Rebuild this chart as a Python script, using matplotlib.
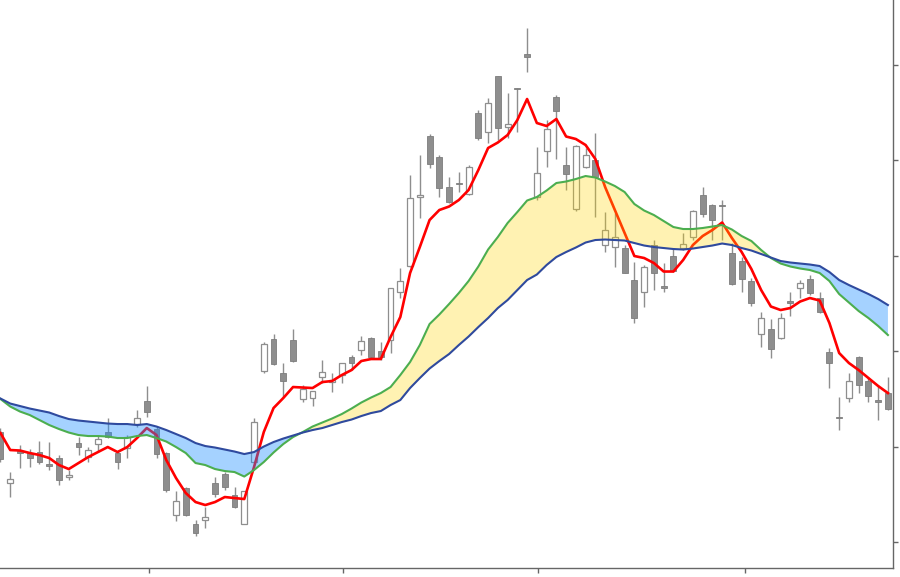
import numpy as np
import matplotlib
matplotlib.use("Agg")
import matplotlib.pyplot as plt

# daily candles (arbitrary price units; the reference shows no tick labels)
opens = [16.8, 11.7, 14.9, 14.7, 14.8, 13.6, 14.2, 12.3, 15.7, 14.3,
         15.6, 16.8, 14.7, 15.2, 17.6, 19.9, 17.1, 14.7, 8.5, 11.2,
         7.6, 8.0, 11.7, 12.6, 10.5, 7.6, 13.8, 22.9, 26.1, 22.7,
         26.0, 20.1, 20.2, 22.3, 21.8, 22.5, 24.3, 25.0, 26.2, 24.9,
         26.0, 30.8, 33.4, 40.3, 46.4, 44.3, 41.3, 41.75, 40.6, 48.7,
         46.8, 52.4, 47.3, 51.2, 54.6, 40.3, 44.9, 50.3, 43.5, 39.1,
         43.3, 44.0, 35.5, 35.3, 35.2, 32.0, 30.8, 35.5, 31.4, 34.4,
         35.2, 36.3, 40.5, 39.5, 39.55, 34.7, 33.9, 31.9, 26.6, 27.1,
         26.2, 29.9, 31.2, 32.1, 30.2, 24.8, 18.35, 20.2, 24.3, 21.9,
         20.0, 20.7]
highs = [17.2, 12.8, 15.5, 15.1, 15.9, 15.8, 14.5, 13.0, 16.3, 15.3,
         16.5, 18.2, 15.0, 16.5, 19.0, 21.4, 17.3, 14.8, 10.9, 11.3,
         8.0, 9.3, 12.3, 12.8, 11.3, 10.9, 18.2, 25.8, 26.6, 23.7,
         27.1, 21.5, 20.9, 24.0, 22.7, 23.7, 24.5, 26.4, 26.3, 25.8,
         31.2, 33.2, 42.5, 44.5, 46.6, 44.5, 42.3, 42.8, 43.5, 49.0,
         50.2, 52.4, 50.7, 51.2, 57.2, 45.3, 48.0, 50.5, 45.3, 45.5,
         45.2, 46.7, 38.8, 38.7, 35.5, 33.8, 33.5, 36.0, 33.7, 35.2,
         36.7, 39.0, 41.3, 39.6, 40.0, 35.7, 34.3, 32.2, 28.8, 28.1,
         28.7, 30.8, 32.0, 32.5, 30.8, 25.2, 20.3, 22.7, 24.4, 22.3,
         21.5, 22.3]
lows = [13.8, 10.3, 13.2, 13.3, 13.6, 13.0, 11.5, 12.0, 14.5, 13.8,
        14.8, 16.2, 13.1, 14.2, 17.3, 18.3, 14.2, 10.8, 7.9, 8.4,
        6.4, 7.2, 10.3, 11.0, 9.2, 7.6, 13.7, 22.7, 23.5, 20.3,
        23.8, 19.8, 19.4, 21.7, 20.8, 21.7, 23.0, 24.5, 24.1, 24.0,
        24.7, 30.2, 33.3, 38.2, 43.2, 40.3, 39.7, 40.8, 40.5, 46.0,
        45.7, 46.0, 46.2, 46.8, 52.8, 40.0, 43.3, 44.1, 41.0, 38.9,
        43.2, 38.3, 34.8, 33.3, 32.7, 27.7, 29.3, 31.0, 30.8, 32.8,
        35.0, 36.0, 38.3, 36.0, 36.0, 31.5, 30.8, 29.4, 25.3, 24.2,
        26.1, 28.4, 30.2, 30.5, 28.7, 21.2, 17.0, 19.8, 20.7, 19.8,
        18.0, 19.0]
closes = [14.1, 12.1, 14.7, 14.2, 13.8, 13.4, 12.0, 12.5, 15.3, 15.0,
          16.1, 16.3, 13.8, 16.3, 18.2, 18.8, 14.6, 11.0, 9.9, 8.5,
          6.7, 8.3, 10.6, 11.3, 9.3, 10.9, 17.8, 25.6, 23.6, 21.9,
          23.9, 21.1, 20.9, 22.8, 22.0, 23.7, 23.7, 25.9, 24.3, 24.3,
          31.2, 31.9, 40.2, 40.5, 43.6, 41.2, 39.8, 41.6, 43.3, 46.2,
          49.7, 47.2, 47.6, 51.1, 54.3, 42.7, 47.1, 48.9, 42.6, 45.4,
          44.5, 42.3, 37.0, 36.3, 32.7, 28.2, 33.3, 32.7, 31.25, 32.9,
          35.6, 38.9, 38.6, 38.0, 39.4, 31.6, 32.1, 29.7, 28.2, 25.1,
          28.2, 29.75, 31.7, 30.7, 28.8, 23.7, 18.2, 21.9, 21.5, 20.4,
          19.85, 19.1]

# moving averages: fast (red), medium (green), slow (blue)
ma_fast = [16.7, 15.0, 14.95, 14.7, 14.5, 14.2, 13.5, 13.1, 13.7, 14.3,
           14.8, 15.3, 14.8, 15.3, 16.2, 17.2, 16.5, 14.0, 12.2, 10.7,
           9.8, 9.5, 9.8, 10.3, 10.2, 10.1, 13.3, 16.8, 19.2, 20.2,
           21.3, 21.25, 21.2, 21.8, 21.9, 22.5, 23.0, 23.9, 24.1, 24.1,
           26.3, 28.3, 32.7, 35.3, 38.0, 39.0, 39.35, 40.0, 41.0, 43.0,
           45.2, 45.75, 46.5, 48.0, 50.1, 47.7, 47.4, 48.1, 46.35, 46.1,
           45.5, 44.1, 41.3, 39.0, 36.7, 34.4, 34.2, 33.7, 32.85, 32.85,
           34.0, 35.5, 36.4, 37.0, 37.75, 36.2, 34.8, 33.1, 31.0, 29.35,
           29.0, 29.2, 29.85, 30.2, 29.95, 27.7, 24.7, 23.7, 23.0, 22.2,
           21.4, 20.7]
ma_mid = [20.1, 19.35, 18.85, 18.5, 18.0, 17.5, 17.1, 16.75, 16.5, 16.4,
          16.4, 16.35, 16.2, 16.2, 16.4, 16.5, 16.2, 15.85, 15.3, 14.7,
          13.7, 13.5, 13.1, 12.9, 12.8, 12.35, 13.0, 13.8, 14.75, 15.6,
          16.3, 16.8, 17.35, 17.75, 18.15, 18.6, 19.15, 19.75, 20.25, 20.7,
          21.3, 22.5, 23.8, 25.5, 27.6, 28.55, 29.6, 30.7, 31.9, 33.35,
          35.05, 36.3, 37.7, 38.8, 39.95, 40.3, 40.95, 41.7, 41.85, 42.1,
          42.4, 42.25, 41.85, 41.4, 40.8, 39.6, 38.95, 38.5, 37.9, 37.3,
          37.1, 37.1, 37.2, 37.35, 37.5, 37.05, 36.4, 35.9, 35.0, 34.2,
          33.65, 33.35, 33.15, 33.0, 32.7, 31.9, 30.6, 29.75, 28.9, 28.2,
          27.4, 26.5]
ma_slow = [20.15, 19.65, 19.4, 19.15, 18.95, 18.75, 18.4, 18.1, 17.95, 17.85,
           17.75, 17.65, 17.6, 17.6, 17.5, 17.6, 17.35, 17.0, 16.6, 16.2,
           15.7, 15.4, 15.25, 15.05, 14.85, 14.6, 14.8, 15.35, 15.8, 16.15,
           16.45, 16.75, 17.0, 17.2, 17.5, 17.8, 18.05, 18.4, 18.7, 18.9,
           19.5, 20.0, 21.2, 22.2, 23.15, 23.9, 24.6, 25.5, 26.35, 27.3,
           28.2, 29.2, 30.0, 31.0, 32.0, 32.55, 33.5, 34.3, 34.8, 35.25,
           35.75, 36.0, 36.05, 36.0, 35.95, 35.7, 35.45, 35.3, 35.2, 35.1,
           35.05, 35.15, 35.3, 35.45, 35.65, 35.5, 35.2, 34.95, 34.6, 34.25,
           33.9, 33.75, 33.65, 33.55, 33.4, 32.8, 32.0, 31.5, 31.05, 30.6,
           30.1, 29.5]

price_ticks = [5.8, 15.35, 24.9, 34.45, 44.0, 53.55]
day_ticks = [15.2, 35.1, 55.1, 76.3]

o, h, l, c = map(np.array, (opens, highs, lows, closes))
mid, slow = np.array(ma_mid), np.array(ma_slow)
x = np.arange(len(o))
up = c >= o

fig = plt.figure(figsize=(9, 5.77), dpi=100)
ax = fig.add_axes([0.0, 0.015, 0.992, 0.985])

GREY = '#8e8e8e'
ax.vlines(x, l, h, color=GREY, lw=1.0, zorder=2)
body = np.maximum(np.abs(c - o), 0.15)
ax.bar(x[up], body[up], bottom=o[up], width=0.6, color='white',
       edgecolor=GREY, lw=0.9, zorder=2)
ax.bar(x[~up], body[~up], bottom=c[~up], width=0.6, color=GREY,
       edgecolor='#7d7d7d', lw=0.6, zorder=2)

ax.plot(x, ma_fast, color='#ff0000', lw=1.9, zorder=3)

# ribbon between the two slower averages, drawn over candles and the fast line
ax.fill_between(x, mid, slow, where=slow >= mid, interpolate=True,
                color='dodgerblue', alpha=0.4, lw=0, zorder=4)
ax.fill_between(x, mid, slow, where=mid >= slow, interpolate=True,
                color='gold', alpha=0.3, lw=0, zorder=4)

ax.plot(x, mid, color='#4cae4f', lw=1.5, zorder=5)
ax.plot(x, slow, color='#2f4a9e', lw=1.5, zorder=5)

ax.set_xlim(-0.05, 91.5)
ax.set_ylim(3.17, 60.0)
for s in ('top', 'left'):
    ax.spines[s].set_visible(False)
for s in ('right', 'bottom'):
    ax.spines[s].set_color('#666666')
    ax.spines[s].set_linewidth(1.0)
ax.yaxis.tick_right()
ax.set_yticks(price_ticks)
ax.set_xticks(day_ticks)
ax.tick_params(axis='both', direction='out', length=3.5, width=1.0,
               color='#666666', labelright=False, labelbottom=False,
               labelleft=False)

fig.savefig('out.png', dpi=100)
